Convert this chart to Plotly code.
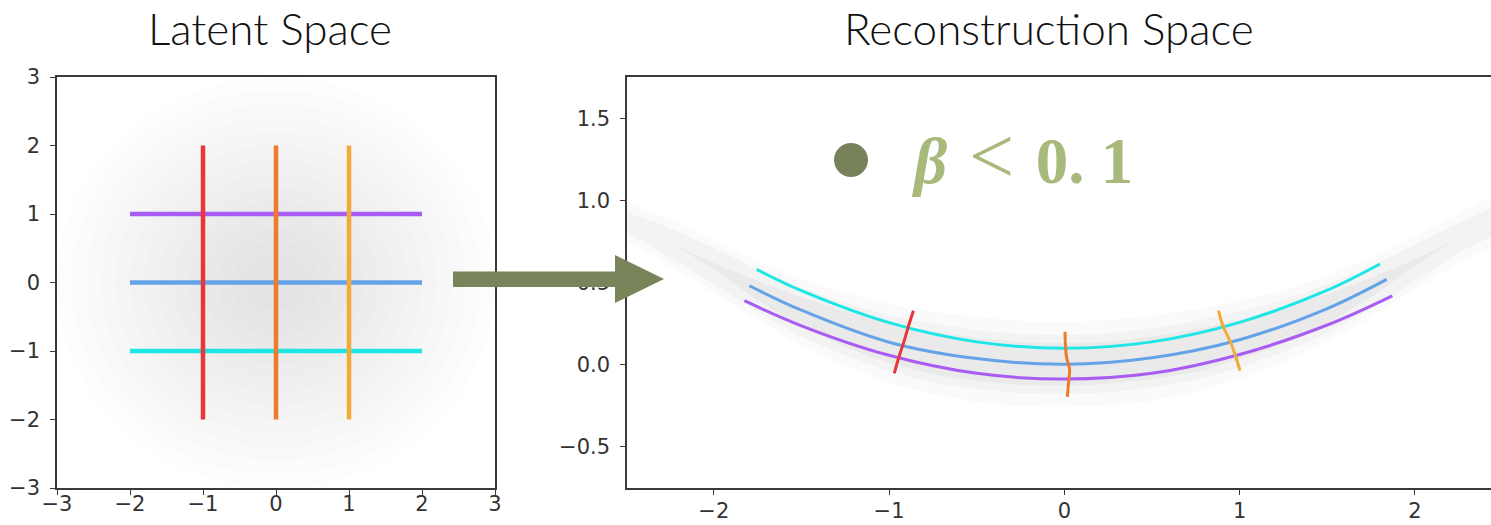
import plotly.graph_objects as go

W, H = 1491, 525

# ---------------- data: latent space ----------------
latent_row_y = [1, 0, -1]            # horizontal grid lines (latent y)
latent_row_colors = ["#a95cf2", "#64a3e8", "#1fe6e6"]
latent_col_x = [-1, 0, 1]            # vertical grid lines (latent x)
latent_col_colors = ["#e8363a", "#f07a2c", "#f2ab3a"]
latent_line_extent = [-2, 2]
latent_cloud_radius = [3.0, 2.8, 2.6, 2.4, 2.2, 2.0, 1.8, 1.6, 1.4, 1.2, 1.0, 0.8, 0.6, 0.4]

# ---------------- data: reconstruction space ----------------
cyan_x = [-1.755, -1.5, -1.0, -0.5, 0.0, 0.5, 1.0, 1.5, 1.80]
cyan_y = [0.579, 0.449, 0.254, 0.137, 0.098, 0.137, 0.256, 0.452, 0.612]
blue_x = [-1.797, -1.5, -1.0, -0.5, 0.0, 0.5, 1.0, 1.5, 1.839]
blue_y = [0.479, 0.330, 0.135, 0.035, 0.0, 0.040, 0.150, 0.340, 0.518]
purple_x = [-1.825, -1.5, -1.0, -0.5, 0.0, 0.5, 1.0, 1.5, 1.871]
purple_y = [0.388, 0.235, 0.055, -0.055, -0.090, -0.055, 0.060, 0.240, 0.418]

red_x = [-0.970, -0.945, -0.918, -0.890, -0.861]
red_y = [-0.055, 0.040, 0.128, 0.230, 0.327]
orange_x = [0.017, 0.025, 0.030, 0.013, 0.006, 0.004]
orange_y = [-0.198, -0.100, -0.030, 0.040, 0.120, 0.199]
yellow_x = [1.002, 0.975, 0.947, 0.907, 0.879]
yellow_y = [-0.039, 0.057, 0.138, 0.229, 0.327]

recon_cloud_x = [-2.5, -2.25, -2.0, -1.75, -1.5, -1.25, -1.0, -0.75, -0.5, -0.25, 0.0,
                 0.25, 0.5, 0.75, 1.0, 1.25, 1.5, 1.75, 2.0, 2.25, 2.5]
recon_cloud_mid = [0.87, 0.74, 0.60, 0.45, 0.32, 0.215, 0.13, 0.07, 0.03, 0.005, 0.0,
                   0.01, 0.04, 0.085, 0.15, 0.235, 0.34, 0.47, 0.62, 0.77, 0.90]
recon_cloud_outer = [0.12, 0.14, 0.16, 0.18, 0.20, 0.22, 0.24, 0.25, 0.26, 0.26, 0.26,
                     0.26, 0.26, 0.25, 0.24, 0.22, 0.20, 0.18, 0.16, 0.15, 0.14]
recon_cloud_middle = [0.06, 0.09, 0.11, 0.13, 0.15, 0.16, 0.17, 0.18, 0.18, 0.18, 0.18,
                      0.18, 0.18, 0.18, 0.17, 0.16, 0.15, 0.13, 0.11, 0.09, 0.07]
recon_cloud_inner = [0.0, 0.0, 0.02, 0.06, 0.09, 0.11, 0.12, 0.13, 0.13, 0.13, 0.13,
                     0.13, 0.13, 0.13, 0.12, 0.11, 0.09, 0.06, 0.02, 0.0, 0.0]

latent_ticks = [-3, -2, -1, 0, 1, 2, 3]
recon_xticks = [-2, -1, 0, 1, 2]
recon_yticks = [-0.5, 0.0, 0.5, 1.0, 1.5]

# ---------------- figure ----------------
fig = go.Figure()

def px(x):
    return x / W

def py(y):
    return 1 - y / H

# latent lines
for yv, c in zip(latent_row_y, latent_row_colors):
    fig.add_trace(go.Scatter(x=latent_line_extent, y=[yv, yv], mode="lines",
                             line=dict(color=c, width=4.5), xaxis="x", yaxis="y",
                             hoverinfo="skip"))
for xv, c in zip(latent_col_x, latent_col_colors):
    fig.add_trace(go.Scatter(x=[xv, xv], y=latent_line_extent, mode="lines",
                             line=dict(color=c, width=4.5), xaxis="x", yaxis="y",
                             hoverinfo="skip"))

# reconstruction cloud (nested bands)
for spread, alpha in [(recon_cloud_outer, 0.035), (recon_cloud_middle, 0.05),
                      (recon_cloud_inner, 0.06)]:
    up = [m + s for m, s in zip(recon_cloud_mid, spread)]
    lo = [m - s for m, s in zip(recon_cloud_mid, spread)]
    fig.add_trace(go.Scatter(x=recon_cloud_x + recon_cloud_x[::-1], y=up + lo[::-1],
                             mode="lines", fill="toself",
                             fillcolor=f"rgba(110,110,110,{alpha})",
                             line=dict(width=0, shape="spline", smoothing=0.6),
                             xaxis="x2", yaxis="y2", hoverinfo="skip"))

for xs, ys, c in [(cyan_x, cyan_y, "#1fe6e6"), (blue_x, blue_y, "#64a3e8"),
                  (purple_x, purple_y, "#a95cf2")]:
    fig.add_trace(go.Scatter(x=xs, y=ys, mode="lines",
                             line=dict(color=c, width=3, shape="spline"),
                             xaxis="x2", yaxis="y2", hoverinfo="skip"))
for xs, ys, c in [(red_x, red_y, "#e8363a"), (orange_x, orange_y, "#f07a2c"),
                  (yellow_x, yellow_y, "#f2ab3a")]:
    fig.add_trace(go.Scatter(x=xs, y=ys, mode="lines",
                             line=dict(color=c, width=3, shape="spline"),
                             xaxis="x2", yaxis="y2", hoverinfo="skip"))

axis_common = dict(showgrid=False, zeroline=False, showline=True, linecolor="#3a3a3a",
                   linewidth=1.5, ticks="outside", ticklen=5, tickwidth=1.3,
                   tickcolor="#3a3a3a", automargin=False,
                   tickfont=dict(family="DejaVu Sans", size=21, color="#333333"))

y_dom = [py(488), py(77)]
fig.update_layout(
    width=W, height=H, margin=dict(l=0, r=0, t=0, b=0, autoexpand=False),
    paper_bgcolor="white", plot_bgcolor="white", showlegend=False,
    xaxis=dict(domain=[px(57), px(495)], range=[-3, 3], tickvals=latent_ticks,
               mirror=True, anchor="y", ticklabelstandoff=-9, **axis_common),
    yaxis=dict(domain=y_dom, range=[-3, 3], tickvals=latent_ticks,
               mirror=True, anchor="x", ticklabelstandoff=6, **axis_common),
    xaxis2=dict(domain=[px(627), 1.0], range=[-2.495, 2.434], tickvals=recon_xticks,
                mirror=True, anchor="y2", ticklabelstandoff=-2, **axis_common),
    yaxis2=dict(domain=y_dom, range=[-0.754, 1.752], tickvals=recon_yticks,
                tickformat=".1f", mirror=False, anchor="x2", ticklabelstandoff=6,
                **axis_common),
)

shapes = []
for r in latent_cloud_radius:
    shapes.append(dict(type="circle", xref="x", yref="y", x0=-r, x1=r, y0=-r, y1=r,
                       fillcolor="rgba(110,110,110,0.016)", line=dict(width=0),
                       layer="below"))
# arrow
arrow_col = "#7a845a"
shapes.append(dict(type="rect", xref="paper", yref="paper", x0=px(453), x1=px(617),
                   y0=py(287), y1=py(271.5), fillcolor=arrow_col, line=dict(width=0),
                   layer="above"))
shapes.append(dict(type="path", xref="paper", yref="paper",
                   path=f"M {px(615)} {py(255)} L {px(664)} {py(279)} L {px(615)} {py(303)} Z",
                   fillcolor=arrow_col, line=dict(width=0), layer="above"))
# bullet
shapes.append(dict(type="circle", xref="paper", yref="paper", x0=px(834), x1=px(868),
                   y0=py(177), y1=py(143), fillcolor="#78825a", line=dict(width=0),
                   layer="above"))
fig.update_layout(shapes=shapes)

title_font = dict(family="Lato", size=44, color="#111111", weight=300)
fig.add_annotation(text="Latent Space", xref="paper", yref="paper", x=px(270), y=py(28),
                   xanchor="center", yanchor="middle", showarrow=False, font=title_font)
fig.add_annotation(text="Reconstruction Space", xref="paper", yref="paper", x=px(1049),
                   y=py(28), xanchor="center", yanchor="middle", showarrow=False,
                   font=title_font)
fig.add_annotation(
    text="<b><i>β</i></b>&#8196;<span style='font-size:80px'>&lt;</span>&#8196;<b>0. 1</b>",
    xref="paper", yref="paper", x=px(910), y=py(156), xanchor="left", yanchor="middle",
    showarrow=False, font=dict(family="Liberation Serif", size=65, color="#a9b97c"))

fig.write_html("out.html")
